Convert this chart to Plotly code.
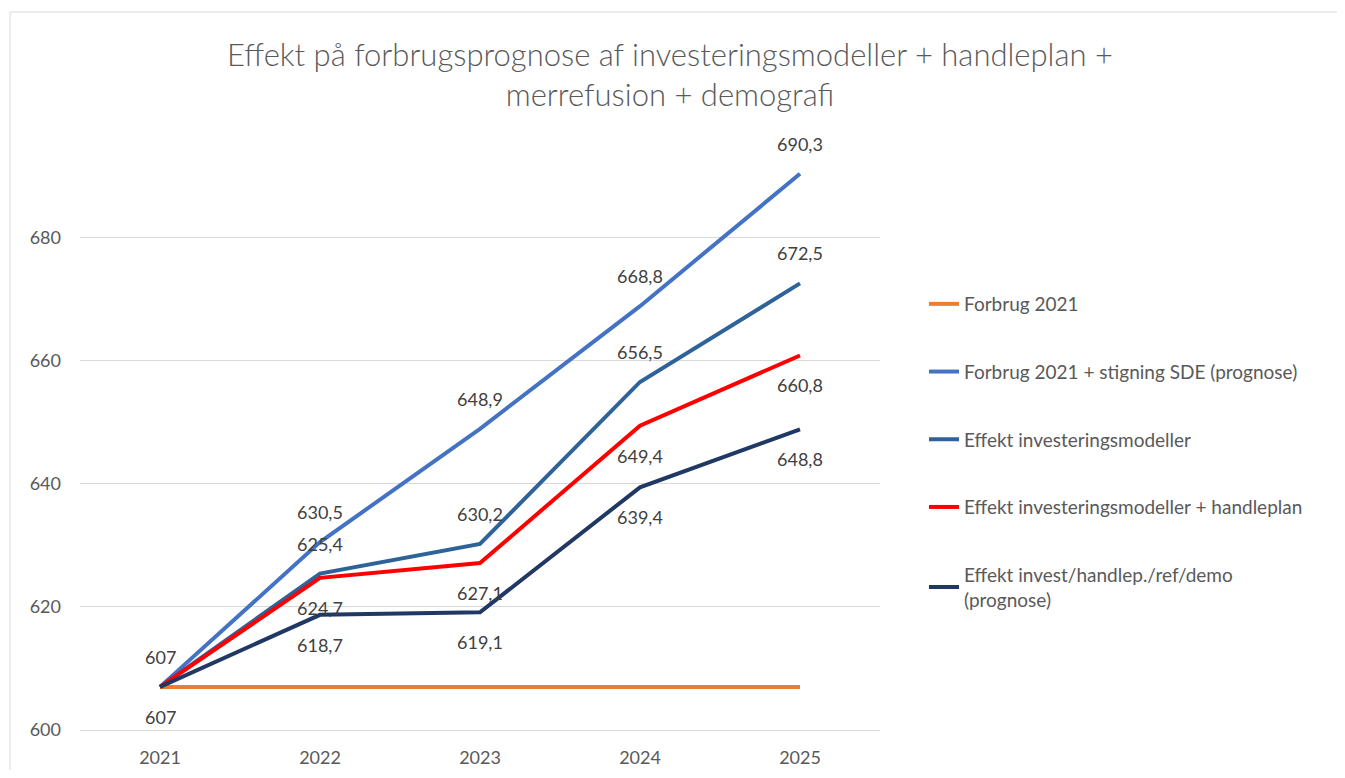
import plotly.graph_objects as go

years = ["2021", "2022", "2023", "2024", "2025"]
names = [
    "Forbrug 2021",
    "Forbrug 2021 + stigning SDE (prognose)",
    "Effekt investeringsmodeller",
    "Effekt investeringsmodeller + handleplan",
    "Effekt invest/handlep./ref/demo<br>(prognose)",
]
forbrug = [607, 607, 607, 607, 607]
sde = [607, 630.5, 648.9, 668.8, 690.3]
invest = [607, 625.4, 630.2, 656.5, 672.5]
handleplan = [607, 624.7, 627.1, 649.4, 660.8]
demo = [607, 618.7, 619.1, 639.4, 648.8]
series = [forbrug, sde, invest, handleplan, demo]
colors = ["#ED7D31", "#4472C4", "#2E639A", "#FF0000", "#203864"]
# which points carry a label, and whether above (+1) or below (-1)
label_pts = [
    {0: -1},
    {0: 1, 1: 1, 2: 1, 3: 1, 4: 1},
    {1: 1, 2: 1, 3: 1, 4: 1},
    {1: -1, 2: -1, 3: -1, 4: -1},
    {1: -1, 2: -1, 3: -1, 4: -1},
]
yticks = [600, 620, 640, 660, 680]

FONT = "Lato"
GRAY = "#595959"

W, H = 1329, 762
L, T = 72, 106
PW, PH = 800, 616

fig = go.Figure()
for i, (nm, vals, col) in enumerate(zip(names, series, colors)):
    fig.add_trace(go.Scatter(
        x=years, y=vals, name=nm, mode="lines",
        line=dict(color=col, width=4),
        legendgroup=str(i),
    ))

annotations = []
for vals, lp in zip(series, label_pts):
    for idx, d in lp.items():
        v = vals[idx]
        txt = (f"{v:.1f}".replace(".", ",") if v != int(v) else str(int(v)))
        annotations.append(dict(
            x=idx, y=v, xref="x", yref="y", text=txt,
            showarrow=False, yshift=30 * d,
            font=dict(family=FONT, size=18, color="#404040"),
        ))

fig.update_layout(
    width=W, height=H,
    paper_bgcolor="white", plot_bgcolor="white",
    margin=dict(l=L, r=W - L - PW, t=T, b=H - T - PH, autoexpand=False),
    title=dict(
        text="Effekt på forbrugsprognose af investeringsmodeller + handleplan +<br>merrefusion + demografi",
        x=662 / W, xref="container", xanchor="center",
        y=1 - 58 / H, yref="container", yanchor="top",
        font=dict(family=FONT, size=31, color=GRAY, weight=300),
    ),
    xaxis=dict(
        type="category", range=[-0.5, 4.5], showgrid=False,
        showline=True, linecolor="#D9D9D9", linewidth=1,
        ticks="", tickfont=dict(family=FONT, size=18, color=GRAY),
        zeroline=False, ticklabelstandoff=11, automargin=False,
    ),
    yaxis=dict(
        range=[600, 700], tickvals=yticks, ticktext=[str(t) for t in yticks],
        showgrid=True, gridcolor="#D9D9D9", gridwidth=1, zeroline=False,
        showline=False, ticks="", ticklabelstandoff=18, automargin=False,
        tickfont=dict(family=FONT, size=18, color=GRAY),
    ),
    legend=dict(
        x=(916 - L) / PW, xanchor="left",
        y=(T + PH - 277) / PH, yanchor="top",
        font=dict(family=FONT, size=19, color=GRAY),
        tracegroupgap=40, bgcolor="rgba(0,0,0,0)",
    ),
    annotations=annotations,
    shapes=[dict(
        type="rect", xref="paper", yref="paper",
        x0=(2 - L) / PW, x1=(1400 - L) / PW,
        y0=-0.3, y1=(T + PH - 4) / PH,
        line=dict(color="#D9D9D9", width=1), layer="below",
    )],
    showlegend=True,
)

fig.write_html("out.html")
